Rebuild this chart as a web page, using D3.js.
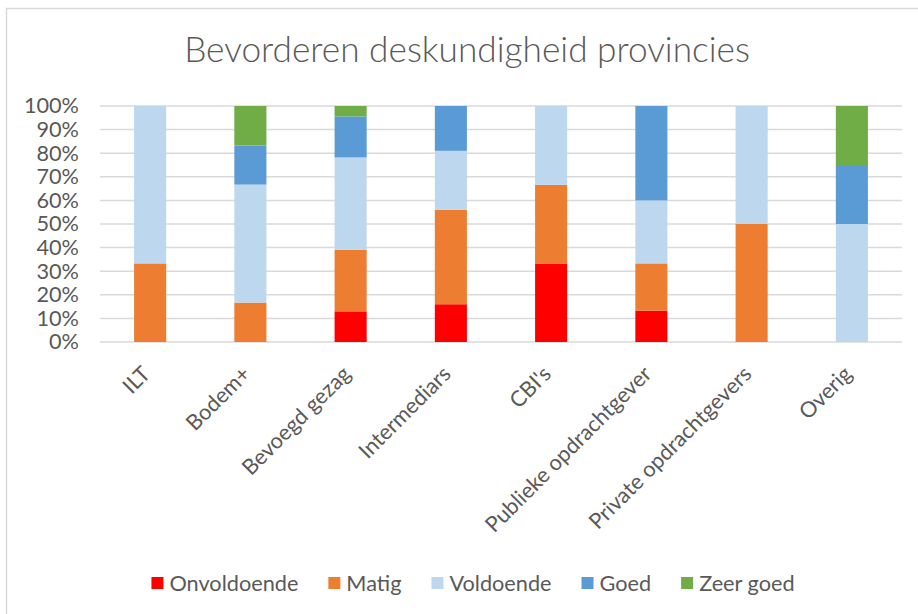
<!DOCTYPE html>
<html>
<head>
<meta charset="utf-8">
<script src="https://cdn.jsdelivr.net/npm/d3@7"></script>
<style>
  html, body { margin: 0; padding: 0; background: #fff; }
  svg { display: block; }
</style>
</head>
<body>
<svg id="chart" width="918" height="614"></svg>
<script>
const categories = ['ILT', 'Bodem+', 'Bevoegd gezag', 'Intermediars', "CBI's",
  'Publieke opdrachtgever', 'Private opdrachtgevers', 'Overig']
const seriesNames = ['Onvoldoende', 'Matig', 'Voldoende', 'Goed', 'Zeer goed']
const seriesColors = ['#ff0000', '#ed7d31', '#bdd7ee', '#5b9bd5', '#70ad47']

// percentages per category, in series order
const onvoldoende = [0, 0, 13.0, 16, 33.3, 13.3, 0, 0]
const matig = [33.3, 16.7, 26.1, 40, 33.3, 20, 50, 0]
const voldoende = [66.7, 50, 39.1, 25, 33.4, 26.7, 50, 50]
const goed = [0, 16.6, 17.4, 19, 0, 40, 0, 25]
const zeerGoed = [0, 16.7, 4.4, 0, 0, 0, 0, 25]

const yTicks = [0, 10, 20, 30, 40, 50, 60, 70, 80, 90, 100]
const title = 'Bevorderen deskundigheid provincies'

const seriesValues = [onvoldoende, matig, voldoende, goed, zeerGoed]
const rows = categories.map((c, i) => {
  const r = { cat: c }
  seriesNames.forEach((s, j) => { r[s] = seriesValues[j][i] })
  return r
})

const FONT = 'Lato, "Open Sans", sans-serif'
const TEXT = '#595959'

const svg = d3.select('#chart')

// outer chart border
svg.append('rect')
  .attr('x', 6.5).attr('y', 8.5)
  .attr('width', 940).attr('height', 640)
  .attr('fill', '#fff')
  .attr('stroke', '#d9d9d9')
  .attr('stroke-width', 1.5)

const plot = { left: 100, right: 902, top: 106, bottom: 342 }

const x = d3.scaleBand()
  .domain(categories)
  .range([plot.left, plot.right])
  .paddingInner(0.68)
  .paddingOuter(0.34)

const y = d3.scaleLinear().domain([0, 100]).range([plot.bottom, plot.top])

// helper: pick a font size so that a string is a given width
function fitSize(str, targetWidth, weight) {
  const t = svg.append('text')
    .attr('font-family', FONT).attr('font-size', 100)
    .attr('font-weight', weight || 'normal').text(str)
  const w = t.node().getComputedTextLength()
  t.remove()
  return 100 * targetWidth / w
}

const labelSize = fitSize('Onvoldoende', 129)
const titleSize = fitSize(title, 566, 300)

// title
svg.append('text')
  .attr('x', 467).attr('y', 62)
  .attr('text-anchor', 'middle')
  .attr('font-family', FONT)
  .attr('font-weight', 300)
  .attr('font-size', titleSize)
  .attr('fill', TEXT)
  .text(title)

// gridlines
svg.append('g')
  .selectAll('line')
  .data(yTicks)
  .join('line')
  .attr('x1', plot.left).attr('x2', plot.right)
  .attr('y1', d => y(d)).attr('y2', d => y(d))
  .attr('stroke', '#d9d9d9')
  .attr('stroke-width', 1.5)

// y axis labels
const yAxis = svg.append('g')
  .attr('transform', `translate(${plot.left - 21},0)`)
  .call(d3.axisLeft(y).tickValues(yTicks).tickFormat(d => d + '%').tickSize(0).tickPadding(0))
yAxis.select('.domain').remove()
yAxis.selectAll('text')
  .attr('font-family', FONT)
  .attr('font-size', labelSize)
  .attr('fill', TEXT)

// stacked bars
const stack = d3.stack().keys(seriesNames)(rows)
svg.append('g')
  .selectAll('g')
  .data(stack)
  .join('g')
  .attr('fill', (d, i) => seriesColors[i])
  .selectAll('rect')
  .data(d => d)
  .join('rect')
  .attr('x', d => x(d.data.cat))
  .attr('width', x.bandwidth())
  .attr('y', d => y(d[1]))
  .attr('height', d => y(d[0]) - y(d[1]))

// x axis labels, rotated
const xAxis = svg.append('g')
  .attr('transform', `translate(0,${plot.bottom})`)
  .call(d3.axisBottom(x).tickSize(0).tickPadding(0))
xAxis.select('.domain').remove()
xAxis.selectAll('text')
  .attr('font-family', FONT)
  .attr('font-size', labelSize)
  .attr('fill', TEXT)
  .attr('text-anchor', 'end')
  .attr('dy', '0.35em')
  .attr('transform', 'translate(-4,28) rotate(-45)')

// legend
const legend = svg.append('g')
let lx = 0
seriesNames.forEach((s, i) => {
  const g = legend.append('g')
  g.append('rect')
    .attr('x', 0).attr('y', -6)
    .attr('width', 12).attr('height', 12)
    .attr('fill', seriesColors[i])
  const t = g.append('text')
    .attr('x', 18).attr('dy', '0.35em')
    .attr('font-family', FONT)
    .attr('font-size', labelSize)
    .attr('fill', TEXT)
    .text(s)
  const w = 18 + t.node().getComputedTextLength()
  g.attr('transform', `translate(${lx},0)`)
  lx += w + 30
})
const legendWidth = lx - 30
legend.attr('transform', `translate(${473 - legendWidth / 2},583)`)
</script>
</body>
</html>
